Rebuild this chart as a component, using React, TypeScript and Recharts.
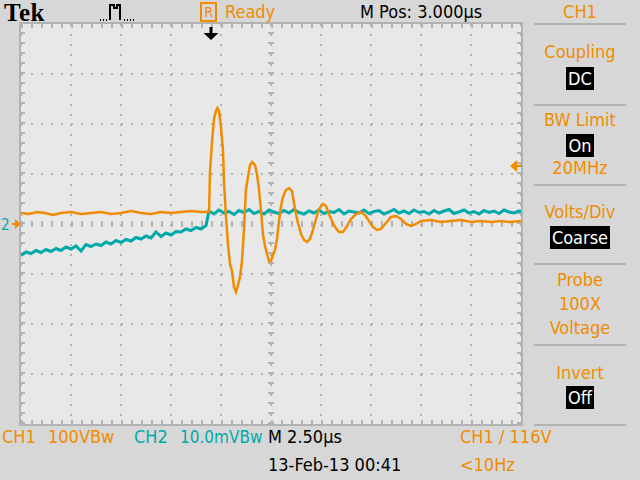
import React from "react";
import { LineChart, Line, XAxis, YAxis, CartesianGrid, ReferenceLine } from "recharts";

const ORANGE = "#f08c00";
const TEAL = "#00a9a9";
const GRID = "#b2b2b2";
const PLOT_BG = "#e8e8e8";
const PANEL_BG = "#d7d7d7";
const FONT = "'Liberation Sans Narrow', 'DejaVu Sans Condensed', 'DejaVu Sans', sans-serif";

// horizontal: 10 div x 2.50 us, vertical: 8 div
const timeTicks = [0, 2.5, 5, 7.5, 10, 12.5, 15, 17.5, 20, 22.5, 25];
const ch1Ticks = [-400, -300, -200, -100, 0, 100, 200, 300, 400]; // 100 V/div

// CH1 (V)
const ch1Time = [0, 0.4, 0.8, 1.2, 1.6, 2.0, 2.5, 3.0, 3.5, 4.0, 4.5, 5.0, 5.5, 6.0, 6.5, 7.0, 7.5, 8.0, 8.5, 9.0,
  9.4, 9.45, 9.55, 9.65, 9.75, 9.82, 9.9, 10.0, 10.1, 10.15, 10.25, 10.35, 10.45, 10.55, 10.65, 10.75, 10.85, 10.95,
  11.05, 11.15, 11.25, 11.35, 11.45, 11.55, 11.7, 11.8, 11.9, 12.0, 12.1, 12.2, 12.3, 12.4, 12.5, 12.6, 12.7, 12.8,
  12.9, 13.0, 13.1, 13.25, 13.4, 13.55, 13.65, 13.75, 13.85, 14.0, 14.15, 14.3, 14.45, 14.6, 14.75, 14.9, 15.1, 15.25,
  15.4, 15.55, 15.7, 15.9, 16.1, 16.3, 16.5, 16.75, 17.0, 17.2, 17.4, 17.6, 17.8, 18.0, 18.25, 18.5, 18.75, 19.0,
  19.25, 19.5, 19.75, 20.0, 20.5, 21.0, 21.5, 22.0, 22.5, 23.0, 23.5, 24.0, 24.5, 25.0];
const ch1Volts = [22, 20, 24, 22, 18, 22, 24, 20, 22, 24, 20, 22, 26, 22, 20, 24, 22, 24, 26, 24,
  24, 104, 164, 210, 226, 232, 226, 194, 146, 84, 14, -42, -80, -94, -126, -136, -122, -106,
  -74, -10, 70, 94, 118, 124, 118, 100, 70, 26, -22, -44, -60, -74, -74, -62, -52, -30,
  6, 36, 54, 68, 72, 66, 42, 20, 2, -20, -32, -36, -30, -12, 10, 30, 40, 36,
  20, 6, -6, -16, -16, -4, 10, 20, 24, 18, 6, -6, -12, -10, 2, 14, 16, 10,
  0, -4, 0, 6, 8, 4, 6, 8, 4, 6, 4, 6, 4, 6];

// CH2 (mV), sampled every 0.25 us, before and after the step
const ch2PreMilliVolts = [-6.3, -5.6, -5.9, -5.3, -5.7, -5.1, -5.5, -4.9, -5.3, -4.6, -5.0, -4.4, -5.4, -4.1,
  -4.5, -4.0, -4.3, -3.6, -4.0, -3.3, -3.7, -3.1, -3.4, -2.7, -3.0, -2.4, -2.8, -1.6, -2.5, -1.8, -2.2, -1.5,
  -1.6, -1.0, -1.3, -0.7, -1.0, -0.3];
const ch2PostMilliVolts = [2.6, 2.0, 2.8, 2.2, 2.5, 1.9, 2.7, 2.3, 2.9, 2.1, 2.5, 2.0, 2.8, 2.4, 2.1, 2.7,
  2.2, 2.9, 2.3, 2.0, 2.6, 2.2, 2.8, 2.1, 2.5, 2.3, 2.9, 2.0, 2.6, 2.4, 2.2, 2.8, 2.1, 2.5, 2.7, 2.0,
  2.4, 2.9, 2.2, 2.6, 2.1, 2.8, 2.3, 2.5, 2.0, 2.7, 2.2, 2.6, 2.9, 2.1, 2.4, 2.8, 2.2, 2.5, 2.0, 2.7,
  2.3, 2.6, 2.1, 2.8, 2.4, 2.2, 2.6, 2.4];

const triggerTime = 9.5;
const triggerLevel = 116;

const ch1Data = ch1Time.map((t, i) => ({ t, v: ch1Volts[i] }));
const ch2Data = [
  ...ch2PreMilliVolts.map((v, i) => ({ t: i * 0.25, v })),
  ...ch2PostMilliVolts.map((v, i) => ({ t: 9.4 + i * 0.25, v })),
];

function TriggerPosMarker(props: any) {
  const vb = props.viewBox;
  if (!vb) return null;
  const x = vb.x;
  const y = vb.y;
  return <path d={`M${x - 1.5},${y + 3} h3 v6 h6 l-7.5,7 l-7.5,-7 h6 z`} fill="#000" />;
}

function TriggerLevelMarker(props: any) {
  const vb = props.viewBox;
  if (!vb) return null;
  const x = vb.x + vb.width;
  const y = vb.y;
  return (
    <g fill={ORANGE}>
      <path d={`M${x - 11},${y} l7,-6 v12 z`} />
      <rect x={x - 5} y={y - 1} width={6} height={2} />
    </g>
  );
}

function GroundMarker(props: any) {
  const vb = props.viewBox;
  if (!vb) return null;
  const x = vb.x;
  const y = vb.y;
  return (
    <g>
      <text x={x - 20} y={y + 6} fill={TEAL} fontSize={15} fontFamily={FONT}>2</text>
      <path d={`M${x - 9},${y - 1} h3 v-4 l6,5 l-6,5 v-4 h-3 z`} fill={ORANGE} />
    </g>
  );
}

const txt = (left: number, cy: number, color: string, content: React.ReactNode, size = 18) => (
  <div style={{ position: "absolute", left, top: cy - size / 2, fontSize: size, lineHeight: `${size}px`, color, whiteSpace: "nowrap" }}>
    {content}
  </div>
);

const menuTxt = (cy: number, content: React.ReactNode) => (
  <div style={{ position: "absolute", left: 520, width: 120, top: cy - 9, fontSize: 18, lineHeight: "18px", color: ORANGE, textAlign: "center", whiteSpace: "nowrap" }}>
    {content}
  </div>
);

const menuBox = (top: number, content: string) => (
  <div style={{ position: "absolute", left: 520, width: 120, top, textAlign: "center" }}>
    <span style={{ display: "inline-block", background: "#000", color: "#fff", fontSize: 18, lineHeight: "23px", padding: "0 2px" }}>{content}</span>
  </div>
);

const sep = (y: number) => (
  <div style={{ position: "absolute", left: 534, width: 92, top: y - 1, height: 2, background: GRID }} />
);

export default function App() {
  return (
    <div style={{ position: "fixed", left: 0, top: 0, width: 640, height: 480, background: PANEL_BG, fontFamily: FONT, overflow: "hidden" }}>
      {/* plot frame */}
      <div style={{ position: "absolute", left: 19, top: 22, width: 500, height: 400, border: `2px solid ${GRID}` }} />

      <LineChart
        width={640}
        height={480}
        margin={{ top: 24, left: 21, right: 119, bottom: 56 }}
        style={{ position: "absolute", left: 0, top: 0 }}
      >
        <XAxis dataKey="t" type="number" domain={[0, 25]} ticks={timeTicks} allowDataOverflow hide />
        <YAxis yAxisId="ch1" type="number" domain={[-400, 400]} ticks={ch1Ticks} allowDataOverflow hide />
        <YAxis yAxisId="ch2" type="number" domain={[-40, 40]} allowDataOverflow hide />
        <CartesianGrid yAxisId="ch1" stroke={GRID} strokeWidth={2} strokeDasharray="2 8" fill={PLOT_BG} fillOpacity={1} />

        {/* border ticks */}
        <ReferenceLine yAxisId="ch1" y={396} stroke={GRID} strokeWidth={4} strokeDasharray="2 8" />
        <ReferenceLine yAxisId="ch1" y={-396} stroke={GRID} strokeWidth={4} strokeDasharray="2 8" />
        <ReferenceLine yAxisId="ch1" x={0.1} stroke={GRID} strokeWidth={4} strokeDasharray="2 8" />
        <ReferenceLine yAxisId="ch1" x={24.9} stroke={GRID} strokeWidth={4} strokeDasharray="2 8" />

        {/* centre axes with minor ticks */}
        <ReferenceLine yAxisId="ch1" y={0} stroke={GRID} strokeWidth={6} strokeDasharray="2 8" label={<GroundMarker />} />
        <ReferenceLine yAxisId="ch1" x={12.5} stroke={GRID} strokeWidth={6} strokeDasharray="2 8" />

        <Line yAxisId="ch2" data={ch2Data} dataKey="v" type="linear" stroke={TEAL} strokeWidth={3} dot={false} isAnimationActive={false} />
        <Line yAxisId="ch1" data={ch1Data} dataKey="v" type="linear" stroke={ORANGE} strokeWidth={2.5} dot={false} isAnimationActive={false} />

        <ReferenceLine yAxisId="ch1" x={triggerTime} stroke="none" label={<TriggerPosMarker />} />
        <ReferenceLine yAxisId="ch1" y={triggerLevel} stroke="none" label={<TriggerLevelMarker />} />
      </LineChart>

      {/* header */}
      <div style={{ position: "absolute", left: 4, top: 0, fontFamily: "'Liberation Serif', 'DejaVu Serif', serif", fontWeight: "bold", fontSize: 25, lineHeight: "25px", letterSpacing: 0.5, color: "#000" }}>Tek</div>
      <svg style={{ position: "absolute", left: 98, top: 2 }} width={42} height={20}>
        <path d="M2,18 h1 M5,18 h1 M8,18 h1 M12,18 V3 h4 v3 h3 V3 h3 V18 M26,18 h1 M29,18 h1 M32,18 h1 M35,18 h1" stroke="#000" strokeWidth={2} fill="none" />
      </svg>
      <div style={{ position: "absolute", left: 200, top: 2, width: 13, height: 16, border: `2px solid ${ORANGE}`, color: ORANGE, fontSize: 14, lineHeight: "16px", textAlign: "center" }}>R</div>
      {txt(225, 12, ORANGE, "Ready")}
      {txt(360, 12, "#000", "M Pos: 3.000\u00b5s")}
      {menuTxt(12, "CH1")}

      {/* menu */}
      {sep(24)}
      {menuTxt(52, "Coupling")}
      {menuBox(67, "DC")}
      {sep(105)}
      {menuTxt(120, "BW Limit")}
      {menuBox(134, "On")}
      {menuTxt(168, "20MHz")}
      {sep(185)}
      {menuTxt(212, "Volts/Div")}
      {menuBox(226, "Coarse")}
      {sep(264)}
      {menuTxt(280, "Probe")}
      {menuTxt(304, "100X")}
      {menuTxt(328, "Voltage")}
      {sep(345)}
      {menuTxt(373, "Invert")}
      {menuBox(386, "Off")}
      {sep(425)}

      {/* status line */}
      {txt(2, 437, ORANGE, "CH1")}
      {txt(48, 437, ORANGE, "100VBw")}
      {txt(134, 437, TEAL, "CH2")}
      {txt(180, 437, TEAL, "10.0mVBw", 17)}
      {txt(268, 437, "#000", "M 2.50\u00b5s")}
      {txt(460, 437, ORANGE, "CH1  /  116V")}
      {txt(268, 465, "#000", "13-Feb-13 00:41")}
      {txt(460, 465, ORANGE, "<10Hz")}
    </div>
  );
}
